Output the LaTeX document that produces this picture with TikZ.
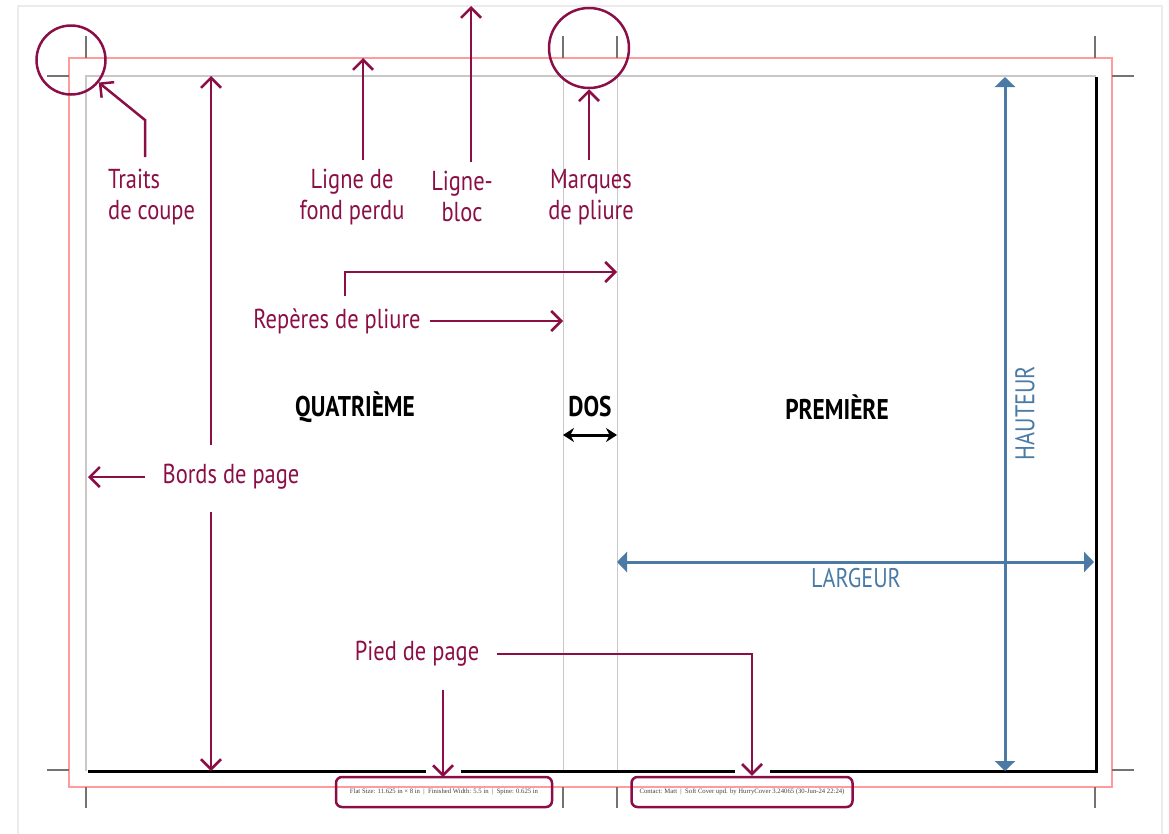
\documentclass[tikz,border=0pt]{standalone}
\usepackage{fontspec}
\setmainfont{PT Sans}[FakeStretch=0.82]
\newfontfamily\footFont{Liberation Serif}
\usetikzlibrary{positioning}
\usetikzlibrary{arrows.meta}
\definecolor{labelColor}{RGB}{139,15,70}
\definecolor{sizeColor}{RGB}{74,122,165}
\definecolor{bleedColor}{RGB}{255,155,155}
\definecolor{foldColor}{RGB}{200,200,200}

\begin{document}
\begin{tikzpicture}[x=1pt,y=-1pt]

  \tikzstyle{labelText} = [text=labelColor, font=\fontsize{27.4}{31}\selectfont, align=center, inner sep=0pt];
  \tikzstyle{partText} = [font=\fontsize{28.5}{30}\selectfont\bfseries, inner sep=0pt];
  \tikzstyle{sizeText} = [text=sizeColor, font=\fontsize{27}{30}\selectfont, inner sep=0pt];
  \tikzstyle{labelArrow} = [line width=2.5pt, labelColor, -{Straight Barb[length=10pt,width=20pt]}];
  \tikzstyle{sizeArrow} = [line width=3pt, sizeColor, {Triangle[length=10pt,width=20pt]}-{Triangle[length=10pt,width=20pt]}];
  \tikzstyle{cropMark} = [line width=1.2pt, black!55];
  \tikzstyle{markCircle} = [draw=labelColor, line width=2.5pt, circle, inner sep=0pt];
  \tikzstyle{footBox} = [draw=labelColor, line width=2.5pt, rounded corners=6pt, minimum height=30pt, text=black!75, font=\footFont\fontsize{6.7}{7}\selectfont];

  \useasboundingbox (0,0) rectangle (1169,833);
  \draw[black!8, line width=2pt] (18,840) -- (18,6) -- (1162,6) -- (1162,840);

  % bleed, trim and fold lines
  \draw[bleedColor, line width=1.5pt] (69,58) rectangle (1112,787);
  \draw[foldColor, line width=1.5pt] (86,771) -- (86,76) -- (1096,76);
  \draw[foldColor, line width=1pt] (563,76) -- (563,771) (617,76) -- (617,771);
  \draw[line width=3pt] (1096,77) -- (1096,771) -- (770,771) (735,771) -- (461,771) (426,771) -- (88,771);

  % crop and fold marks
  \foreach \x in {86,563,617,1095} {
    \draw[cropMark] (\x,36) -- (\x,58);
    \draw[cropMark] (\x,787) -- (\x,808);
  }
  \foreach \y in {76,770} {
    \draw[cropMark] (47,\y) -- (69,\y);
    \draw[cropMark] (1112,\y) -- (1134,\y);
  }

  \node[markCircle, minimum size=69pt] (cropCircle) at (71,60) {};
  \node[markCircle, minimum size=80pt] (foldCircle) at (589,48) {};

  % labels
  \node[labelText, align=left, anchor=west] (traits) at (108,197) {Traits\\de coupe};
  \node[labelText] (fondPerdu) at (352,197) {Ligne de\\fond perdu};
  \node[labelText] (ligneBloc) at (462,196) {Ligne-\\bloc};
  \node[labelText] (marques) at (591,197) {Marques\\de pliure};
  \node[labelText] (reperes) at (337,321) {Repères de pliure};
  \node[labelText] (bords) at (231,477) {Bords de page};
  \node[labelText] (pied) at (417,654) {Pied de page};

  \node[partText] (quatrieme) at (355,407) {QUATRIÈME};
  \node[partText] (dos) at (590,407) {DOS};
  \node[partText] (premiere) at (837,407) {PREMIÈRE};

  \node[sizeText, rotate=90] (hauteur) at (1025,413) {HAUTEUR};
  \node[sizeText] (largeur) at (856,578) {LARGEUR};

  \node[footBox, minimum width=216pt] (flatInfo) at (444,792) {Flat Size: 11.625 in × 8 in\enspace|\enspace Finished Width: 5.5 in\enspace|\enspace Spine: 0.625 in};
  \node[footBox, minimum width=221pt] (contactInfo) at (742,792) {Contact: Matt\enspace|\enspace Soft Cover upd. by HurryCover 3.24065 (30-Jun-24 22:24)};

  % arrow ends
  \coordinate (trimTop) at (211,76);
  \coordinate (trimBottom) at (211,771);
  \coordinate (trimLeft) at (88,477);
  \coordinate (bleedTop) at (363,58);
  \coordinate (frameTop) at (471,6);
  \coordinate (spineRight) at (617,272);
  \coordinate (spineLeft) at (563,321);
  \coordinate (piedCorner) at (752,654);

  \draw[labelArrow] (145,157) -- (145,120) -- (cropCircle);
  \draw[labelArrow] (211,445) -- (trimTop);
  \draw[labelArrow] (211,512) -- (trimBottom);
  \draw[labelArrow] (145,477) -- (trimLeft);
  \draw[labelArrow] (363,160) -- (bleedTop);
  \draw[labelArrow] (471,162) -- (frameTop);
  \draw[labelArrow] (589,160) -- (foldCircle.south);
  \draw[labelArrow] (345,296) -- (345,272) -- (spineRight);
  \draw[labelArrow] (430,321) -- (spineLeft);
  \draw[labelArrow] (497,654) -- (piedCorner) -- (piedCorner |- contactInfo.north);
  \draw[labelArrow] (443,690) -- (443,777);

  \draw[sizeArrow] (1005,77) -- (1005,771);
  \draw[sizeArrow] (617,562) -- (1094,562);
  \draw[line width=3pt, {Stealth[length=11pt,width=14pt]}-{Stealth[length=11pt,width=14pt]}] (563,435) -- (617,435);

\end{tikzpicture}
\end{document}
